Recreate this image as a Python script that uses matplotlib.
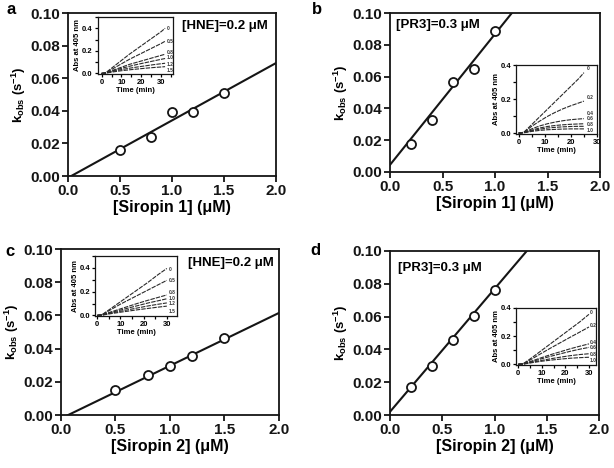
import numpy as np
import matplotlib
matplotlib.use('Agg')
import matplotlib.pyplot as plt
from matplotlib.ticker import MultipleLocator

plt.rcParams['font.family'] = ['Liberation Sans', 'DejaVu Sans']
plt.rcParams['font.weight'] = 'bold'
plt.rcParams['mathtext.fontset'] = 'custom'
plt.rcParams['mathtext.rm'] = 'Liberation Sans:bold'
plt.rcParams['mathtext.it'] = 'Liberation Sans:bold'
plt.rcParams['mathtext.bf'] = 'Liberation Sans:bold'

# ---- datos de los paneles principales ----
x_a = [0.5, 0.8, 1.0, 1.2, 1.5]
y_a = [0.016, 0.024, 0.0394, 0.0394, 0.0507]
fit_a = (0.0352, -0.0011)   # pendiente, ordenada

x_b = [0.2, 0.4, 0.6, 0.8, 1.0]
y_b = [0.0175, 0.033, 0.0564, 0.0648, 0.0888]
fit_b = (0.0823, 0.0045)

x_c = [0.5, 0.8, 1.0, 1.2, 1.5]
y_c = [0.0151, 0.0241, 0.0295, 0.0353, 0.0464]
fit_c = (0.0318, -0.0021)

x_d = [0.2, 0.4, 0.6, 0.8, 1.0]
y_d = [0.0168, 0.030, 0.0458, 0.0604, 0.0761]
fit_d = (0.0749, 0.002)

# ---- datos de los insets (Abs a 405 nm vs tiempo) ----
t_a = [0, 2, 6, 10, 14, 18, 22, 26, 30, 32]
lab_a = ['0', '0.5', '0.8', '1.0', '1.2', '1.5']
abs_a = [
    [0, 0.005, 0.06, 0.115, 0.17, 0.22, 0.27, 0.32, 0.37, 0.40],
    [0, 0.005, 0.045, 0.085, 0.125, 0.16, 0.195, 0.23, 0.265, 0.285],
    [0, 0.004, 0.03, 0.055, 0.08, 0.10, 0.12, 0.14, 0.16, 0.17],
    [0, 0.003, 0.025, 0.045, 0.063, 0.08, 0.095, 0.11, 0.125, 0.132],
    [0, 0.003, 0.02, 0.034, 0.046, 0.057, 0.067, 0.077, 0.086, 0.09],
    [0, 0.002, 0.014, 0.024, 0.032, 0.039, 0.046, 0.052, 0.057, 0.06],
]
laby_a = [0.40, 0.28, 0.188, 0.143, 0.078, 0.027]

t_b = [0, 2, 5, 8, 11, 14, 17, 20, 23, 25]
lab_b = ['0', '0.2', '0.4', '0.6', '0.8', '1.0']
abs_b = [
    [0, 0.005, 0.05, 0.095, 0.14, 0.185, 0.23, 0.275, 0.32, 0.355],
    [0, 0.005, 0.04, 0.07, 0.098, 0.122, 0.143, 0.161, 0.177, 0.188],
    [0, 0.004, 0.025, 0.042, 0.055, 0.065, 0.073, 0.079, 0.083, 0.085],
    [0, 0.003, 0.018, 0.03, 0.039, 0.045, 0.049, 0.052, 0.054, 0.055],
    [0, 0.003, 0.014, 0.023, 0.03, 0.034, 0.037, 0.039, 0.04, 0.04],
    [0, 0.002, 0.01, 0.016, 0.02, 0.022, 0.024, 0.025, 0.025, 0.025],
]
laby_b = [0.377, 0.21, 0.115, 0.083, 0.048, 0.015]

t_c = [0, 2, 6, 10, 14, 18, 22, 26, 30]
lab_c = ['0', '0.5', '0.8', '1.0', '1.2', '1.5']
abs_c = [
    [0, 0.005, 0.06, 0.115, 0.17, 0.225, 0.28, 0.34, 0.395],
    [0, 0.005, 0.05, 0.095, 0.135, 0.175, 0.215, 0.255, 0.295],
    [0, 0.004, 0.03, 0.055, 0.08, 0.105, 0.128, 0.15, 0.172],
    [0, 0.003, 0.025, 0.045, 0.065, 0.085, 0.105, 0.122, 0.14],
    [0, 0.003, 0.02, 0.035, 0.05, 0.065, 0.08, 0.093, 0.105],
    [0, 0.002, 0.015, 0.027, 0.038, 0.049, 0.059, 0.069, 0.078],
]
laby_c = [0.39, 0.29, 0.19, 0.144, 0.098, 0.035]

t_d = [0, 2, 6, 10, 14, 18, 22, 26, 30]
lab_d = ['0', '0.2', '0.4', '0.6', '0.8', '1.0']
abs_d = [
    [0, 0.003, 0.05, 0.1, 0.15, 0.2, 0.25, 0.3, 0.355],
    [0, 0.003, 0.04, 0.08, 0.118, 0.155, 0.192, 0.228, 0.265],
    [0, 0.002, 0.025, 0.048, 0.07, 0.09, 0.11, 0.128, 0.145],
    [0, 0.002, 0.02, 0.04, 0.058, 0.075, 0.092, 0.107, 0.12],
    [0, 0.002, 0.015, 0.028, 0.04, 0.051, 0.061, 0.069, 0.075],
    [0, 0.001, 0.012, 0.022, 0.03, 0.037, 0.043, 0.047, 0.05],
]
laby_d = [0.365, 0.278, 0.158, 0.118, 0.07, 0.024]

NEGRO = '#151515'


def panel_principal(ax, x, y, fit, xlabel, letra, texto, texto_pos):
    xs = np.array([0.0, 2.0])
    yl = fit[0] * xs + fit[1]
    ax.plot(xs, yl, color=NEGRO, lw=1.5, zorder=2)
    ax.plot(x, y, 'o', mfc='white', mec=NEGRO, mew=1.3, ms=6.5, zorder=3)
    ax.set_xlim(0, 2.0)
    ax.set_ylim(0, 0.10)
    ax.xaxis.set_major_locator(MultipleLocator(0.5))
    ax.yaxis.set_major_locator(MultipleLocator(0.02))
    ax.xaxis.set_major_formatter(matplotlib.ticker.FormatStrFormatter('%.1f'))
    ax.yaxis.set_major_formatter(matplotlib.ticker.FormatStrFormatter('%.2f'))
    ax.tick_params(direction='out', length=4, width=1.3, labelsize=11, colors=NEGRO, pad=1.5)
    for s in ax.spines.values():
        s.set_linewidth(1.3)
        s.set_color(NEGRO)
    ax.set_xlabel(xlabel, fontsize=11.5, fontweight='bold', labelpad=2)
    ax.set_ylabel(r'k$_{obs}$ (s$^{-1}$)', fontsize=9.5, fontweight='bold', labelpad=2)
    ax.text(texto_pos[0], texto_pos[1], texto, transform=ax.transAxes,
            fontsize=9.5, fontweight='bold', va='top', ha=texto_pos[2])
    ax.figure.text(letra[1], letra[2], letra[0], fontsize=12, fontweight='bold', va='top')


def inset(ax, t, curvas, etiquetas, lab_y, lab_x, xlim, ylim):
    for v in curvas:
        ax.plot(t, v, color='#2a2a2a', lw=0.8, ls=(0, (4, 1)))
    for e, yy in zip(etiquetas, lab_y):
        ax.text(lab_x, yy, e, fontsize=3.5, va='center', ha='left', color='#333333')
    ax.set_xlim(*xlim)
    ax.set_ylim(*ylim)
    ax.xaxis.set_major_locator(MultipleLocator(10))
    ax.xaxis.set_minor_locator(MultipleLocator(5))
    ax.yaxis.set_major_locator(MultipleLocator(0.2))
    ax.yaxis.set_minor_locator(MultipleLocator(0.1))
    ax.yaxis.set_major_formatter(matplotlib.ticker.FormatStrFormatter('%.1f'))
    ax.tick_params(which='major', direction='out', length=2.5, width=0.9, labelsize=5.5, pad=1)
    ax.tick_params(which='minor', direction='out', length=2.5, width=0.9)
    for s in ax.spines.values():
        s.set_linewidth(0.9)
        s.set_color(NEGRO)
    ax.set_xlabel('Time (min)', fontsize=5.5, fontweight='bold', labelpad=0.5)
    ax.set_ylabel('Abs at 405 nm', fontsize=5.5, fontweight='bold', labelpad=0.5)


fig = plt.figure(figsize=(6.14, 4.68), dpi=100)

ax_a = fig.add_axes([0.1107, 0.6239, 0.3388, 0.3483])
ax_b = fig.add_axes([0.6352, 0.6325, 0.3420, 0.3397])
ax_c = fig.add_axes([0.0993, 0.1132, 0.3550, 0.3547])
ax_d = fig.add_axes([0.6352, 0.1132, 0.3404, 0.3505])

panel_principal(ax_a, x_a, y_a, fit_a, '[Siropin 1] (μM)', ('a', 0.010, 0.995),
                '[HNE]=0.2 μM', (0.96, 0.96, 'right'))
panel_principal(ax_b, x_b, y_b, fit_b, '[Siropin 1] (μM)', ('b', 0.508, 0.995),
                '[PR3]=0.3 μM', (0.03, 0.96, 'left'))
panel_principal(ax_c, x_c, y_c, fit_c, '[Siropin 2] (μM)', ('c', 0.008, 0.478),
                '[HNE]=0.2 μM', (0.975, 0.95, 'right'))
panel_principal(ax_d, x_d, y_d, fit_d, '[Siropin 2] (μM)', ('d', 0.505, 0.480),
                '[PR3]=0.3 μM', (0.04, 0.93, 'left'))

in_a = fig.add_axes([0.159, 0.8419, 0.1228, 0.1218])
in_b = fig.add_axes([0.8404, 0.7137, 0.1319, 0.1474])
in_c = fig.add_axes([0.1547, 0.3248, 0.1336, 0.1282])
in_d = fig.add_axes([0.8404, 0.2201, 0.1303, 0.1218])

inset(in_a, t_a, abs_a, lab_a, laby_a, 33, (-2, 36), (-0.005, 0.5))
inset(in_b, t_b, abs_b, lab_b, laby_b, 26, (-1, 30), (-0.005, 0.4))
inset(in_c, t_c, abs_c, lab_c, laby_c, 31, (-1, 34.4), (-0.005, 0.5))
inset(in_d, t_d, abs_d, lab_d, laby_d, 30.5, (-1, 33), (-0.005, 0.4))

fig.savefig('out.png', dpi=100)
